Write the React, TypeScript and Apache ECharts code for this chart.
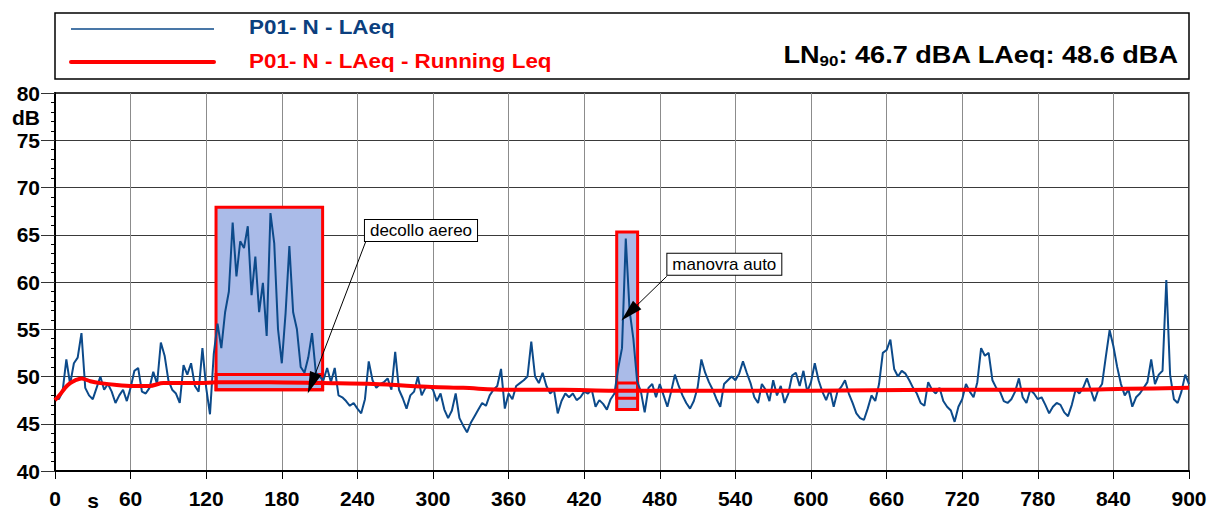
import React, { useEffect, useRef } from "react";
import * as echarts from "echarts";

// LAeq short samples, one every 3 s from 0 s to 900 s
const SAMPLE_STEP = 3;
const laeq: number[] = [
  47.8, 47.6, 48.4, 51.8, 49.2, 51.4, 52.0, 54.6, 48.8, 48.0, // 0
  47.6, 48.8, 50.0, 48.6, 49.2, 48.4, 47.2, 48.0, 48.6, 47.4, // 30
  48.8, 50.6, 50.9, 48.4, 48.2, 48.8, 50.5, 49.2, 53.6, 52.2, // 60
  49.6, 48.6, 48.2, 47.2, 51.2, 50.2, 51.4, 49.0, 48.4, 53.0, // 90
  48.8, 46.0, 52.4, 55.6, 53.0, 56.8, 59.0, 66.3, 60.6, 64.3, // 120
  63.6, 65.9, 58.6, 62.7, 56.8, 59.9, 54.3, 67.3, 64.1, 55.0, // 150
  51.4, 56.7, 63.8, 56.8, 55.0, 51.0, 50.4, 52.0, 54.6, 50.4, // 180
  50.0, 49.6, 50.9, 49.4, 50.9, 48.0, 47.8, 47.4, 46.9, 47.2, // 210
  46.6, 46.1, 47.6, 51.6, 49.6, 48.8, 49.2, 49.4, 49.8, 48.6, // 240
  52.6, 48.6, 47.7, 46.6, 48.0, 48.4, 50.0, 48.0, 48.8, 49.0, // 270
  48.6, 47.4, 48.2, 46.5, 45.6, 46.4, 48.2, 45.6, 44.8, 44.1, // 300
  45.1, 45.8, 46.5, 47.2, 46.9, 48.0, 48.6, 49.0, 50.8, 46.6, // 330
  48.2, 47.6, 49.0, 49.3, 49.6, 50.0, 53.7, 50.0, 49.3, 50.4, // 360
  49.0, 48.2, 48.6, 46.1, 47.4, 48.2, 47.8, 48.2, 47.5, 47.8, // 390
  48.4, 48.2, 48.6, 46.8, 47.5, 47.1, 46.5, 47.6, 48.2, 50.9, // 420
  53.0, 64.6, 57.0, 54.0, 49.5, 48.4, 46.2, 48.8, 49.2, 47.8, // 450
  49.2, 48.0, 46.8, 48.4, 50.2, 49.0, 48.0, 47.2, 46.6, 47.4, // 480
  48.8, 51.8, 50.4, 49.4, 48.6, 47.6, 46.8, 49.2, 49.6, 50.0, // 510
  49.6, 50.3, 51.6, 50.4, 49.3, 47.8, 47.2, 49.2, 48.6, 47.4, // 540
  49.6, 48.0, 49.0, 47.2, 48.2, 50.1, 50.4, 49.0, 50.6, 48.4, // 570
  49.4, 51.4, 49.6, 48.4, 47.5, 48.6, 46.8, 48.4, 48.9, 49.6, // 600
  48.2, 47.2, 46.1, 45.6, 45.4, 46.6, 48.0, 47.4, 49.2, 52.5, // 630
  52.8, 53.9, 50.8, 50.0, 50.6, 50.3, 49.6, 48.8, 48.2, 47.2, // 660
  46.9, 49.4, 48.6, 48.2, 48.8, 47.4, 46.8, 46.4, 45.2, 46.8, // 690
  47.6, 49.2, 48.4, 47.8, 49.4, 53.0, 52.2, 52.5, 49.6, 48.8, // 720
  48.4, 47.4, 47.2, 47.6, 48.4, 49.8, 47.8, 47.2, 48.6, 48.2, // 750
  47.6, 47.8, 47.0, 46.1, 46.8, 47.2, 47.0, 46.2, 45.8, 47.0, // 780
  48.6, 48.2, 48.8, 49.8, 48.6, 47.4, 48.6, 49.2, 52.1, 54.9, // 810
  53.2, 51.0, 49.2, 48.0, 48.6, 46.8, 47.8, 48.2, 48.8, 49.4, // 840
  51.8, 49.2, 50.2, 50.6, 60.2, 50.2, 47.6, 47.2, 48.4, 50.2, // 870
  49.2, // 900
];

// Running Leq
const runTimes: number[] = [0, 4, 8, 12, 16, 21, 28, 36, 49, 62, 75, 86, 96, 115, 128, 170, 212, 253, 299, 324, 358, 403, 443, 500, 600, 700, 800, 850, 900];
const runValues: number[] = [47.5, 48.1, 48.8, 49.3, 49.6, 49.8, 49.5, 49.3, 49.1, 49.0, 49.0, 49.3, 49.3, 49.3, 49.4, 49.4, 49.3, 49.2, 48.9, 48.8, 48.6, 48.6, 48.5, 48.5, 48.5, 48.6, 48.6, 48.7, 48.8];

// Event boxes (s / dB)
const eventNames = ["decollo aereo", "manovra auto"];
const eventStart = [127.8, 445.8];
const eventEnd = [212.4, 462.4];
const eventMax = [67.9, 65.3];
const eventMin = [48.6, 46.5];
const innerTop = [50.2, 49.3];
const innerBottom = [48.6, 47.7];
const labelAnchor: [number, number][] = [[246, 65.45], [486, 61.87]];
const arrowFrom: [number, number][] = [[246.8, 64.34], [485.5, 60.6]];
const arrowTo: [number, number][] = [[203.7, 49.28], [455.8, 56.75]];

const legendNames = ["P01- N - LAeq", "P01- N - LAeq - Running Leq"];
const ln90 = "46.7";
const laeqTotal = "48.6";

const X_MIN = 0, X_MAX = 900, X_STEP = 60;
const Y_MIN = 40, Y_MAX = 80, Y_STEP = 5;

const BLUE = "#0c4a8a";
const BLUE_TEXT = "#0b3f7e";
const RED = "#ff0000";
const FILL = "#aabbe8";
const FONT = '"Liberation Sans", Arial, sans-serif';

export default function App() {
  const ref = useRef<HTMLDivElement>(null);
  useEffect(() => {
    if (!ref.current) return;
    const chart = echarts.init(ref.current, undefined, { renderer: "svg" });
    const laeqData = laeq.map((v, i) => [i * SAMPLE_STEP, v]);
    const runData = runTimes.map((t, i) => [t, runValues[i]]);

    const areas: any[] = [];
    eventNames.forEach((_, i) => {
      areas.push([
        { coord: [eventStart[i], eventMax[i]], itemStyle: { color: FILL, borderColor: RED, borderWidth: 3 } },
        { coord: [eventEnd[i], eventMin[i]] },
      ]);
      areas.push([
        { coord: [eventStart[i], innerTop[i]], itemStyle: { color: "rgba(0,0,0,0)", borderColor: RED, borderWidth: 3 } },
        { coord: [eventEnd[i], innerBottom[i]] },
      ]);
    });

    const arrows = eventNames.map((_, i) => [
      { coord: arrowFrom[i] },
      { coord: arrowTo[i] },
    ]);

    const labels = eventNames.map((n, i) => ({
      coord: labelAnchor[i],
      value: n,
      symbol: "circle",
      symbolSize: 0,
      label: {
        show: true,
        position: "right",
        distance: 0,
        formatter: n,
        color: "#000",
        fontFamily: FONT,
        fontSize: 17,
        lineHeight: 19,
        backgroundColor: "#fff",
        borderColor: "#000",
        borderWidth: 1,
        padding: [1, 5, 1, 5],
      },
    }));

    const option: any = {
      animation: false,
      backgroundColor: "#fff",
      grid: {
        left: 55,
        right: 21,
        top: 93,
        bottom: 40,
        show: true,
        borderColor: "#000",
        borderWidth: 1.5,
        backgroundColor: "transparent",
      },
      xAxis: {
        type: "value",
        min: X_MIN,
        max: X_MAX,
        interval: X_STEP,
        axisLine: { show: true, onZero: false, lineStyle: { color: "#000", width: 2 } },
        axisTick: { show: true, length: 8, lineStyle: { color: "#000", width: 1 } },
        axisLabel: {
          show: true,
          margin: 17,
          color: "#000",
          fontFamily: FONT,
          fontWeight: "bold",
          fontSize: 21,
          showMinLabel: true,
          showMaxLabel: true,
        },
        splitLine: { show: true, lineStyle: { color: "#8c8c8c", width: 1 } },
      },
      yAxis: {
        type: "value",
        min: Y_MIN,
        max: Y_MAX,
        interval: Y_STEP,
        axisLine: { show: true, onZero: false, lineStyle: { color: "#000", width: 2 } },
        axisTick: { show: true, length: 14, lineStyle: { color: "#333", width: 1 } },
        minorTick: { show: true, splitNumber: 5, length: 4, lineStyle: { color: "#000", width: 1 } },
        axisLabel: {
          show: true,
          margin: 15,
          color: "#000",
          fontFamily: FONT,
          fontWeight: "bold",
          fontSize: 21,
        },
        splitLine: { show: true, lineStyle: { color: "#3a3a3a", width: 1 } },
      },
      graphic: [
        {
          type: "rect",
          shape: { x: 55, y: 13, width: 1134, height: 66 },
          style: { fill: "#fff", stroke: "#000", lineWidth: 1.5 },
          z: 1,
        },
        {
          type: "line",
          shape: { x1: 71, y1: 29, x2: 214, y2: 29 },
          style: { stroke: BLUE, lineWidth: 1.5 },
          z: 2,
        },
        {
          type: "line",
          shape: { x1: 71, y1: 62, x2: 214, y2: 62 },
          style: { stroke: RED, lineWidth: 4, lineCap: "round" },
          z: 2,
        },
        {
          type: "text",
          x: 249,
          y: 27,
          scaleX: 1.15,
          style: {
            text: legendNames[0],
            fill: BLUE_TEXT,
            font: `bold 19.5px ${FONT}`,
            textAlign: "left",
            textVerticalAlign: "middle",
          },
          z: 2,
        },
        {
          type: "text",
          x: 249,
          y: 61,
          scaleX: 1.15,
          style: {
            text: legendNames[1],
            fill: RED,
            font: `bold 19.5px ${FONT}`,
            textAlign: "left",
            textVerticalAlign: "middle",
          },
          z: 2,
        },
        {
          type: "text",
          x: 971,
          y: 55,
          scaleX: 1.13,
          style: {
            text: `{a|LN}{b|90}{a|: ${ln90} dBA}`,
            rich: {
              a: { fontFamily: FONT, fontWeight: "bold", fontSize: 24, fill: "#000", lineHeight: 28 },
              b: { fontFamily: FONT, fontWeight: "bold", fontSize: 15, fill: "#000", lineHeight: 28, padding: [12, 0, 0, 0] },
            },
            textAlign: "right",
            textVerticalAlign: "middle",
          },
          z: 2,
        },
        {
          type: "text",
          x: 1178,
          y: 55,
          scaleX: 1.13,
          style: {
            text: `LAeq: ${laeqTotal} dBA`,
            fill: "#000",
            font: `bold 24px ${FONT}`,
            textAlign: "right",
            textVerticalAlign: "middle",
          },
          z: 2,
        },
        {
          type: "text",
          x: 40,
          y: 117,
          style: {
            text: "dB",
            fill: "#000",
            font: `bold 21px ${FONT}`,
            textAlign: "right",
            textVerticalAlign: "middle",
          },
        },
        {
          type: "text",
          x: 93,
          y: 500,
          style: {
            text: "s",
            fill: "#000",
            font: `bold 21px ${FONT}`,
            textAlign: "center",
            textVerticalAlign: "middle",
          },
        },
      ],
      series: [
        {
          name: "events",
          type: "line",
          data: [],
          z: 1,
          silent: true,
          markArea: { silent: true, data: areas },
        },
        {
          name: legendNames[0],
          type: "line",
          data: laeqData,
          showSymbol: false,
          symbol: "none",
          lineStyle: { color: BLUE, width: 2 },
          z: 3,
        },
        {
          name: legendNames[1],
          type: "line",
          data: runData,
          showSymbol: false,
          symbol: "none",
          smooth: 0.3,
          lineStyle: { color: RED, width: 4 },
          z: 4,
        },
        {
          name: "notes",
          type: "line",
          data: [],
          z: 6,
          silent: true,
          markLine: {
            silent: true,
            symbol: ["none", "triangle"],
            symbolSize: [12, 22],
            lineStyle: { color: "#000", width: 1, type: "solid" },
            itemStyle: { color: "#000" },
            label: { show: false },
            data: arrows,
          },
          markPoint: {
            silent: true,
            data: labels,
          },
        },
      ],
    };
    chart.setOption(option);
    return () => chart.dispose();
  }, []);
  return (
    <div
      ref={ref}
      style={{ position: "absolute", left: 0, top: 0, width: 1210, height: 511 }}
    />
  );
}
